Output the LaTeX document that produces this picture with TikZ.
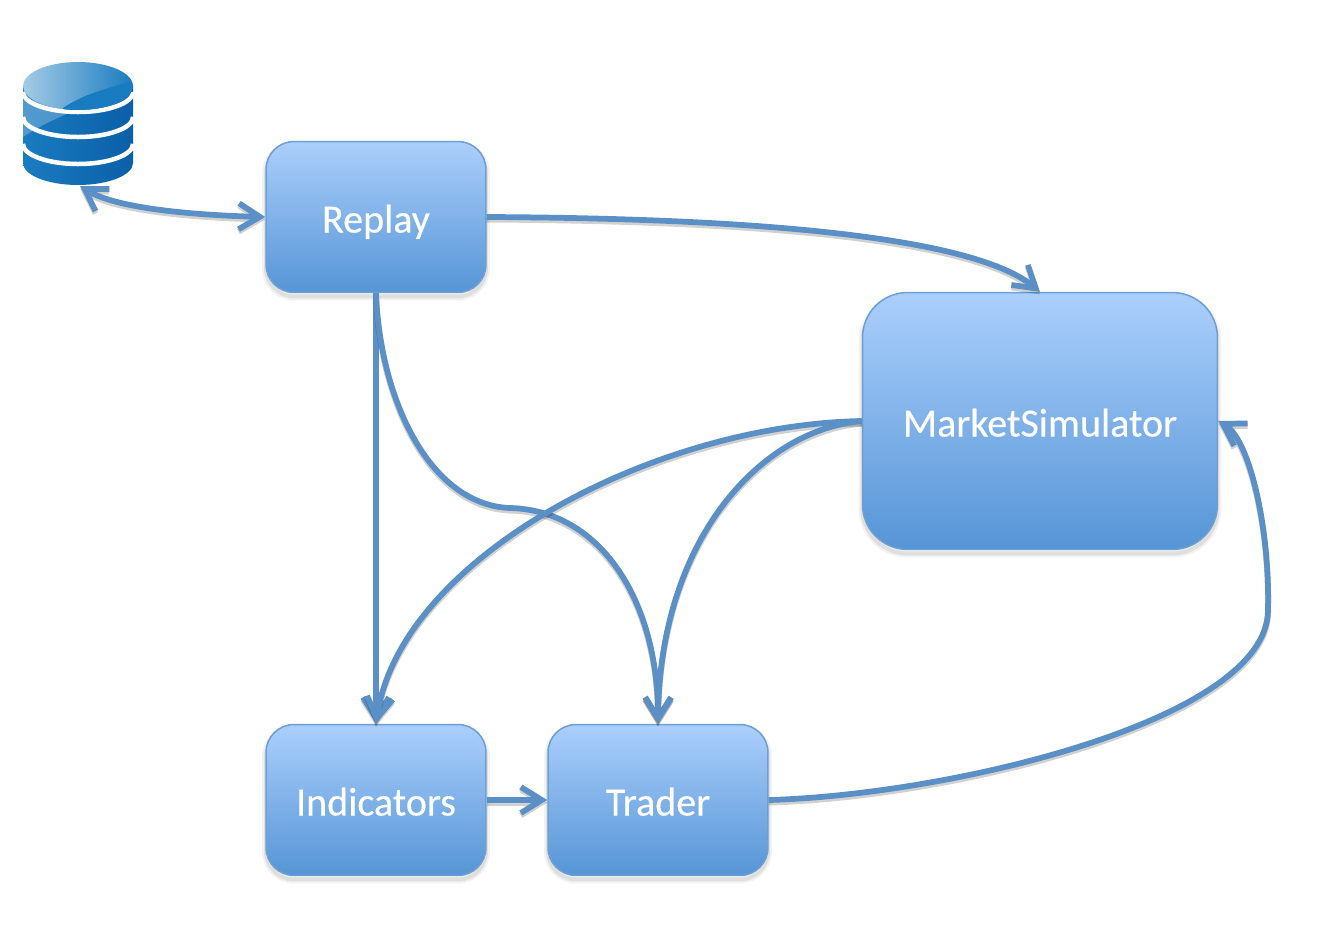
\documentclass[tikz,border=0pt]{standalone}
\usepackage{fontspec}
\setmainfont{Carlito}
\newfontfamily\boxfont[FakeBold=0.35]{Carlito}
\usetikzlibrary{arrows.meta}
\definecolor{boxtop}{HTML}{ABCFFC}
\definecolor{boxbot}{HTML}{5695D6}
\definecolor{boxline}{HTML}{6E9FD2}
\definecolor{flowc}{HTML}{5B90C6}
\definecolor{dbdark}{HTML}{0B5FA8}
\definecolor{dbmid}{HTML}{1A7CC0}
\definecolor{dblight}{HTML}{A4CBE6}
\tikzset{
  px/.style={x=0.02cm,y=-0.02cm},
  procbox/.style={rectangle,rounded corners=0.56cm,minimum width=4.4cm,minimum height=3.02cm,
    draw=boxline,line width=0.03cm,top color=boxtop,bottom color=boxbot,
    text=white,font=\boxfont\fontsize{22.8pt}{26pt}\selectfont,
    text height=0.9cm,text depth=0.28cm,
    preaction={draw=black,line width=0.16cm,draw opacity=.05,transform canvas={yshift=-0.08cm}},
    preaction={draw=black,line width=0.08cm,draw opacity=.08,transform canvas={yshift=-0.08cm}}},
  bigbox/.style={procbox,rounded corners=0.9cm,minimum width=7.1cm,minimum height=5.14cm},
  flow/.style={draw=flowc,line width=0.115cm,
    preaction={draw=black,draw opacity=.18,line width=0.12cm,transform canvas={yshift=-0.05cm}}},
  barbtip/.tip={Straight Barb[length=0.42cm,width=0.52cm,line width=0.115cm]},
  onehead/.style={flow,-barbtip},
  twohead/.style={flow,barbtip-barbtip},
}
\begin{document}
\begin{tikzpicture}[px]
\useasboundingbox (0,0) rectangle (1320,938);
% database
\shade[left color=dbmid,right color=dbdark,draw=none]
  (23,86) -- (23,163) arc[start angle=180,end angle=0,x radius=55,y radius=22] -- (133,86) -- cycle;
\begin{scope}
  \clip (23,86) rectangle (133,160);
  \fill[dblight,opacity=.4] (23,100) -- (23,137) .. controls (45,122) and (60,118) .. (95,100) -- cycle;
\end{scope}
\foreach \cy in {92,117,144}{
  \draw[white,line width=0.09cm] (23,\cy) arc[start angle=180,end angle=0,x radius=55,y radius=20];
}
\begin{scope}
  \clip (78,86) ellipse[x radius=55,y radius=24];
  \shade[left color=dblight,right color=dbmid] (23,60) rectangle (133,112);
  \fill[dbmid] (63,108) .. controls (85,93) and (110,88) .. (135,80) -- (135,112) -- (63,112) -- cycle;
\end{scope}
\coordinate (db) at (80,186);
% boxes
\node[procbox] (replay) at (376,217) {Replay};
\node[procbox] (indicators) at (376,800) {Indicators};
\node[procbox] (trader) at (658,800) {Trader};
\node[bigbox] (market) at (1040,421) {MarketSimulator};
% connectors
\draw[twohead] (db) .. controls (115,208) and (190,215) .. (replay.west);
\draw[onehead] (replay.east) .. controls (700,218) and (965,230) .. (market.north);
\draw[onehead] (replay.south) -- (indicators.north);
\draw[onehead] (replay.south) .. controls (380,400) and (430,505) .. (510,508)
  .. controls (600,510) and (658,600) .. (trader.north);
\draw[onehead] (market.west) .. controls (650,425) and (400,560) .. (indicators.north);
\draw[onehead] (market.west) .. controls (760,430) and (660,540) .. (trader.north);
\draw[onehead] (indicators.east) -- (trader.west);
\draw[onehead] (trader.east) .. controls (950,795) and (1268,720) .. (1268,610)
  .. controls (1270,530) and (1250,440) .. (market.east);
\end{tikzpicture}
\end{document}
